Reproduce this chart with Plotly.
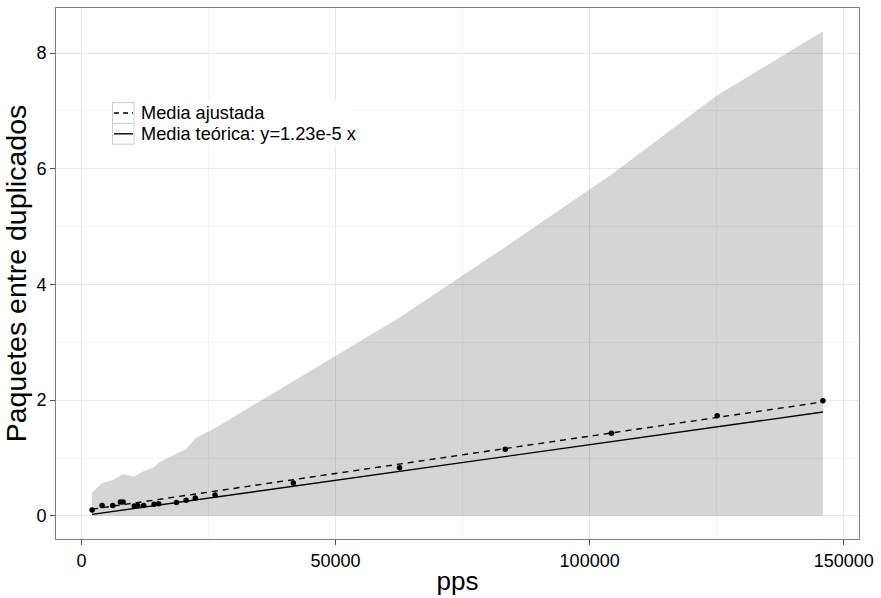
import plotly.graph_objects as go

# Observed packets-between-duplicates vs. packet rate
pps = [2100, 4070, 6160, 7670, 8200, 10400, 11100, 12250, 14300, 15200,
       18700, 20600, 22400, 26300, 41700, 62600, 83400, 104300, 125100, 145900]
duplicados = [0.10, 0.18, 0.18, 0.24, 0.24, 0.17, 0.18, 0.18, 0.20, 0.21,
              0.23, 0.27, 0.31, 0.36, 0.57, 0.83, 1.15, 1.43, 1.73, 1.99]

# Upper / lower limits of the shaded band at each pps value
banda_sup = [0.40, 0.57, 0.62, 0.70, 0.72, 0.68, 0.72, 0.77, 0.84, 0.92,
             1.08, 1.15, 1.34, 1.52, 2.33, 3.43, 4.65, 5.90, 7.27, 8.38]
banda_inf = [0.0] * len(pps)

# Fitted mean (end points of the fitted straight line)
ajuste_x = [2100, 145900]
ajuste_y = [0.115, 1.97]

# Theoretical mean y = 1.23e-5 x
pendiente_teorica = 1.23e-5
teorica_x = [2100, 145900]
teorica_y = [pendiente_teorica * v for v in teorica_x]

leyenda = ["Media ajustada", "Media teórica: y=1.23e-5 x"]
leyenda_dash = ["5px,4px", "solid"]

FONT = "Liberation Sans, Arial, Helvetica, sans-serif"

# Plot area in pixels (used to place the legend box)
W, H = 881, 598
ML, MR, MT, MB = 56, 22, 7, 55
PW, PH = W - ML - MR, H - MT - MB


def px_x(px):
    return (px - ML) / PW


def px_y(py):
    return (H - MB - py) / PH


fig = go.Figure()

# Shaded band: lower edge then upper edge filled to it
fig.add_trace(go.Scatter(x=pps, y=banda_inf, mode="lines", line=dict(width=0),
                         hoverinfo="skip", showlegend=False))
fig.add_trace(go.Scatter(x=pps, y=banda_sup, mode="lines", line=dict(width=0),
                         fill="tonexty", fillcolor="rgba(0,0,0,0.165)",
                         hoverinfo="skip", showlegend=False))

fig.add_trace(go.Scatter(x=ajuste_x, y=ajuste_y, mode="lines",
                         name=leyenda[0], showlegend=False,
                         line=dict(color="black", width=1.4, dash="6px,5px")))
fig.add_trace(go.Scatter(x=teorica_x, y=teorica_y, mode="lines",
                         name=leyenda[1], showlegend=False,
                         line=dict(color="black", width=1.4)))

fig.add_trace(go.Scatter(x=pps, y=duplicados, mode="markers",
                         marker=dict(color="black", size=5.5),
                         showlegend=False))

# Legend drawn inside the panel: white background, grey-framed keys, labels
shapes = [dict(type="rect", xref="paper", yref="paper", layer="above",
               x0=px_x(111), x1=px_x(354), y0=px_y(101), y1=px_y(146),
               fillcolor="white", line=dict(width=0))]
annotations = []
key_top = 102.5
key_h = 21
for i, (txt, dash) in enumerate(zip(leyenda, leyenda_dash)):
    y0 = key_top + i * key_h
    yc = y0 + key_h / 2
    shapes.append(dict(type="rect", xref="paper", yref="paper", layer="above",
                       x0=px_x(112.5), x1=px_x(134), y0=px_y(y0), y1=px_y(y0 + key_h),
                       fillcolor="white", line=dict(color="#cccccc", width=1)))
    shapes.append(dict(type="line", xref="paper", yref="paper", layer="above",
                       x0=px_x(114), x1=px_x(133), y0=px_y(yc), y1=px_y(yc),
                       line=dict(color="black", width=1.4, dash=dash)))
    annotations.append(dict(text=txt, xref="paper", yref="paper",
                            x=px_x(138.5), y=px_y(yc), xanchor="left", yanchor="middle",
                            showarrow=False,
                            font=dict(family=FONT, size=18.2, color="black")))

axis_common = dict(
    showline=True, mirror=True, linecolor="#7f7f7f", linewidth=1,
    ticks="outside", ticklen=5, tickcolor="#4d4d4d", tickwidth=1,
    gridcolor="#e8e8e8", gridwidth=1, zeroline=False,
    tickfont=dict(family=FONT, size=18, color="black"),
    title_font=dict(family=FONT, size=26, color="black"),
)

fig.update_xaxes(range=[-5000, 153000], tick0=0, dtick=50000, tickformat="d",
                 minor=dict(dtick=25000, showgrid=True, gridcolor="#f4f4f4", ticks=""),
                 title_text="pps", title_standoff=2, **axis_common)
fig.update_yaxes(range=[-0.40, 8.78], tick0=0, dtick=2,
                 minor=dict(dtick=1, showgrid=True, gridcolor="#f4f4f4", ticks=""),
                 title_text="Paquetes entre duplicados", title_standoff=4,
                 **axis_common)
fig.update_yaxes(title_font_size=28.5)

fig.update_layout(
    width=W, height=H,
    margin=dict(l=ML, r=MR, t=MT, b=MB),
    plot_bgcolor="white", paper_bgcolor="white",
    showlegend=False,
    shapes=shapes, annotations=annotations,
)

fig.write_html("out.html")
